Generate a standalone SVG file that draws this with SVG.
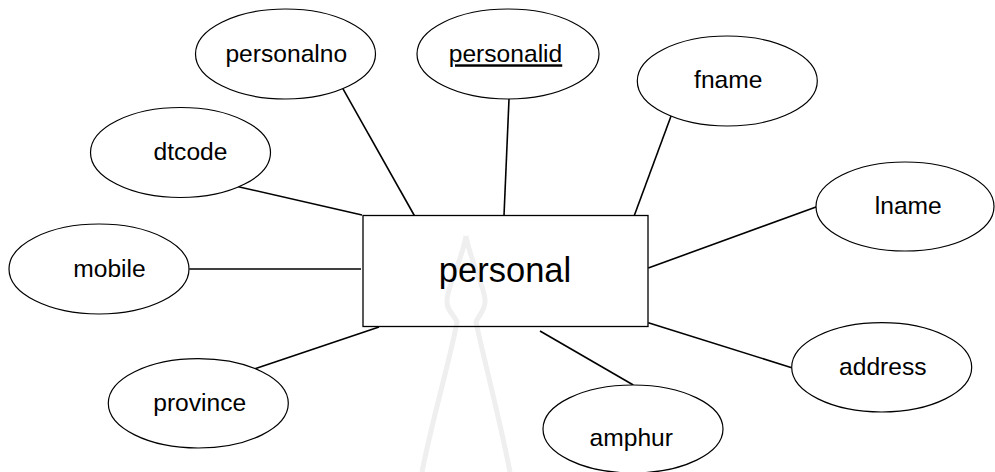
<svg xmlns="http://www.w3.org/2000/svg" width="995" height="472" viewBox="0 0 995 472">
<style>
.attr ellipse{fill:#fff;stroke:#000;stroke-width:1.2}
text{font-family:"Liberation Sans",Arial,sans-serif;fill:#000}
.lbl{font-size:24.6px;text-anchor:middle}
.conn line{stroke:#000;stroke-width:1.6}
</style>
<rect width="995" height="472" fill="#fff"/>
<g id="watermark" fill="none" stroke="#efefef" stroke-width="5">
<path d="M466,236 C462,260 448,285 447,300 C446,310 455,316 457,322 C450,360 432,420 422,472"/>
<path d="M466,236 C470,260 484,285 485,300 C486,310 478,316 476,322 C484,360 500,420 510,472"/>
</g>
<g class="conn" id="connectors">
<line x1="238.3" y1="186.7" x2="362" y2="215"/>
<line x1="342.3" y1="87.7" x2="414.3" y2="215.5"/>
<line x1="509" y1="99" x2="504" y2="215.5"/>
<line x1="671.7" y1="114.3" x2="634.3" y2="215.5"/>
<line x1="816.7" y1="206.7" x2="648.3" y2="268"/>
<line x1="189.3" y1="269" x2="361" y2="269"/>
<line x1="379" y1="327" x2="255" y2="368.7"/>
<line x1="540" y1="331" x2="633.3" y2="385"/>
<line x1="648.3" y1="322.7" x2="791.7" y2="367.7"/>
</g>
<g id="personal">
<rect x="363" y="215.5" width="285" height="111" fill="#fff" fill-opacity="0" stroke="#000" stroke-width="1.3"/>
<text x="505" y="282" font-size="34.5" text-anchor="middle">personal</text>
</g>
<g class="attr" id="personalno"><ellipse cx="285.5" cy="54" rx="90" ry="45"/><text class="lbl" x="286.3" y="62">personalno</text></g>
<g class="attr" id="personalid"><ellipse cx="508" cy="54" rx="91" ry="45"/><text class="lbl" x="505.5" y="62.3" text-decoration="underline">personalid</text></g>
<g class="attr" id="fname"><ellipse cx="727.3" cy="81" rx="90" ry="45"/><text class="lbl" x="728.3" y="87.5">fname</text></g>
<g class="attr" id="dtcode"><ellipse cx="180.5" cy="152.5" rx="90" ry="45"/><text class="lbl" x="190.5" y="160">dtcode</text></g>
<g class="attr" id="lname"><ellipse cx="905" cy="206.5" rx="89" ry="44.5"/><text class="lbl" x="908.3" y="213.5">lname</text></g>
<g class="attr" id="mobile"><ellipse cx="99" cy="269" rx="90" ry="45"/><text class="lbl" x="109.5" y="277">mobile</text></g>
<g class="attr" id="province"><ellipse cx="198.3" cy="403.3" rx="90" ry="44.7"/><text class="lbl" x="199.7" y="411">province</text></g>
<g class="attr" id="amphur"><ellipse cx="633" cy="429" rx="90" ry="44"/><text class="lbl" x="631.3" y="446.3">amphur</text></g>
<g class="attr" id="address"><ellipse cx="881.7" cy="367.3" rx="90" ry="44.7"/><text class="lbl" x="882.8" y="374.7">address</text></g>
</svg>
